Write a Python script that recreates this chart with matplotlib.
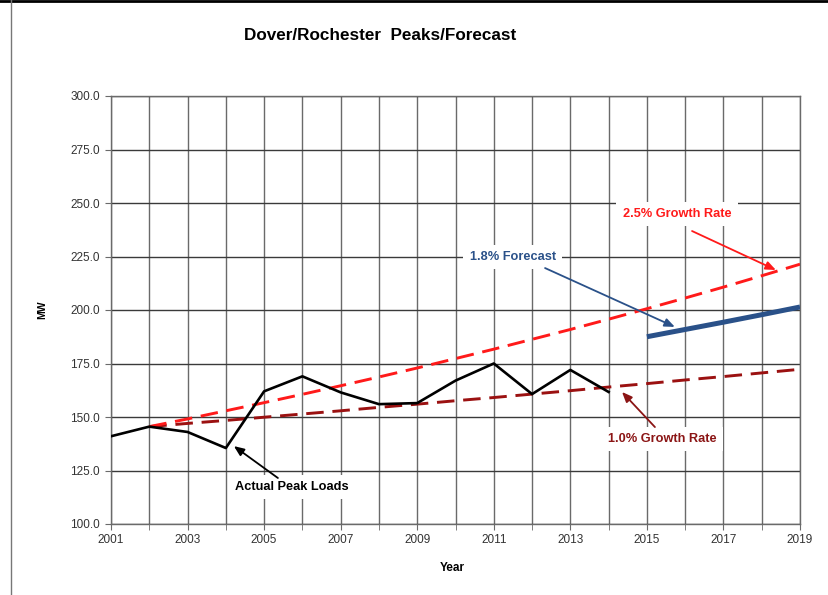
import matplotlib
matplotlib.use("Agg")
import matplotlib.pyplot as plt
from matplotlib.lines import Line2D
from matplotlib.ticker import FixedLocator, MultipleLocator, FormatStrFormatter

plt.rcParams['font.family'] = ['Liberation Sans', 'DejaVu Sans']

# ---- data ----
actual_years = [2001, 2002, 2003, 2004, 2005, 2006, 2007, 2008, 2009, 2010, 2011, 2012, 2013, 2014]
actual_mw = [141.0, 145.5, 143.0, 135.5, 162.0, 169.0, 161.5, 156.0, 156.5, 167.0, 175.0, 160.7, 172.0, 161.7]

growth_years = [2002, 2003, 2004, 2005, 2006, 2007, 2008, 2009, 2010, 2011, 2012, 2013, 2014, 2015, 2016, 2017, 2018, 2019]
growth_25 = [145.5, 149.1, 152.9, 156.7, 160.6, 164.6, 168.7, 172.9, 177.3, 181.7, 186.3, 190.9, 195.7, 200.6, 205.6, 210.7, 216.0, 221.4]
growth_10 = [145.5, 147.0, 148.4, 149.9, 151.4, 152.9, 154.5, 156.0, 157.6, 159.1, 160.7, 162.3, 164.0, 165.6, 167.3, 168.9, 170.6, 172.3]

forecast_years = [2015, 2016, 2017, 2018, 2019]
forecast_18 = [187.5, 190.9, 194.3, 197.8, 201.4]

x_tick_years = [2001, 2003, 2005, 2007, 2009, 2011, 2013, 2015, 2017, 2019]
all_years = list(range(2001, 2020))

title = "Dover/Rochester  Peaks/Forecast"

# ---- figure ----
fig = plt.figure(figsize=(8.29, 5.95), dpi=100)
ax = fig.add_axes([111/829, (595-524)/595, (800-111)/829, (524-96)/595])

grid_c = '#6a6a6a'
ax.set_xlim(2001, 2019)
ax.set_ylim(100, 300)
ax.xaxis.set_major_locator(FixedLocator(x_tick_years))
ax.xaxis.set_minor_locator(FixedLocator(all_years))
ax.yaxis.set_major_locator(MultipleLocator(25))
ax.yaxis.set_major_formatter(FormatStrFormatter('%.1f'))
ax.grid(True, which='both', axis='x', color=grid_c, lw=1.0, zorder=0)
ax.grid(True, which='major', axis='y', color='#3a3a3a', lw=1.0, zorder=0)
ax.set_axisbelow(True)
for s in ax.spines.values():
    s.set_color(grid_c)
    s.set_linewidth(1.0)
ax.tick_params(axis='both', which='both', direction='out', length=4, color=grid_c,
               labelsize=8.5, labelcolor='#333333', pad=4)
ax.tick_params(axis='x', pad=3)

dash = (6, 3)
ax.plot(growth_years, growth_10, color='#9B1111', lw=2.1, dashes=dash, zorder=3)
ax.plot(growth_years, growth_25, color='#FF1A1A', lw=2.1, dashes=dash, zorder=3)
ax.plot(actual_years, actual_mw, color='black', lw=1.9, zorder=4)
ax.plot(forecast_years, forecast_18, color='#2A5189', lw=3.6, solid_capstyle='butt', zorder=4)

def note(text, xy, xytext, color, tail):
    ax.text(xytext[0], xytext[1], text, color=color, fontsize=9.2, fontweight='bold',
            ha='center', va='center', zorder=2,
            bbox=dict(boxstyle='square,pad=0.5', fc='white', ec='none'))
    ax.annotate('', xy=xy, xytext=tail, zorder=5,
                arrowprops=dict(arrowstyle='-|>,head_length=0.6,head_width=0.25',
                                color=color, lw=1.3, shrinkA=0, shrinkB=0))

note('Actual Peak Loads', (2004.21, 136.4), (2005.73, 117.3), 'black', (2005.36, 121.5))
note('1.8% Forecast', (2015.73, 192.1), (2011.5, 224.8), '#2A5189', (2012.34, 219.6))
note('2.5% Growth Rate', (2018.37, 218.7), (2015.79, 244.9), '#FF1A1A', (2016.18, 236.9))
note('1.0% Growth Rate', (2014.35, 161.7), (2015.39, 139.7), '#8B1515', (2015.21, 145.3))

fig.text(380/829, 1-35/595, title, ha='center', va='center', fontsize=12.3, fontweight='bold')
fig.text(42/829, 1-310/595, 'MW', ha='center', va='center', rotation=90, fontsize=7.5, fontweight='bold')
fig.text(452/829, 1-568/595, 'Year', ha='center', va='center', fontsize=8.5, fontweight='bold')

fig.add_artist(Line2D([0, 1], [0.998, 0.998], transform=fig.transFigure, color='black', lw=2))
fig.add_artist(Line2D([11/829, 11/829], [0, 1], transform=fig.transFigure, color='#777777', lw=1))

fig.savefig('out.png', dpi=100)
